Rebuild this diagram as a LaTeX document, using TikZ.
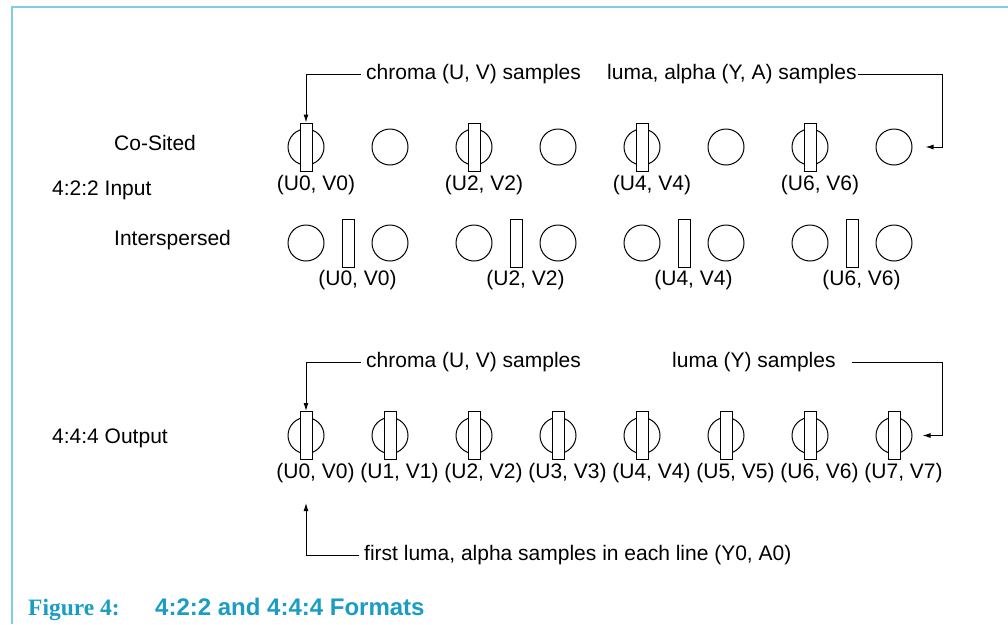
\documentclass[tikz,border=0pt]{standalone}
\usepackage{fontspec}
\setmainfont{Liberation Sans}
\newfontfamily\capserif{Liberation Serif}
\usetikzlibrary{arrows.meta}
\definecolor{framec}{HTML}{7FCFE0}
\definecolor{capc}{HTML}{1A9CC4}
\begin{document}
\begin{tikzpicture}[x=1pt,y=-1pt,
  lbl/.style={font=\fontsize{21}{24}\selectfont, inner sep=0pt},
  samp/.style={circle, draw, line width=1pt, minimum size=36pt, inner sep=0pt},
  chr/.style={rectangle, draw, fill=white, line width=1pt, minimum width=12pt, minimum height=48pt, inner sep=0pt},
  arr/.style={line width=1pt, -{Latex[length=8pt,width=5pt]}}]
\useasboundingbox (0,0) rectangle (1008,624);
\draw[framec, line width=2pt] (12,624) -- (12,7) -- (1008,7);

% left labels
\node[lbl, anchor=base west] (lcs) at (114,150) {Co-Sited};
\node[lbl, anchor=base west] (lin) at (52,195) {4:2:2 Input};
\node[lbl, anchor=base west] (lis) at (114,245) {Interspersed};
\node[lbl, anchor=base west] (lout) at (52,443) {4:4:4 Output};

% co-sited row
\foreach \i in {1,...,8} \node[samp] (cs\i) at ({222+84*\i},147) {};
\foreach \i/\u in {1/0,3/2,5/4,7/6} {
  \node[chr] (cr\i) at ({222+84*\i},147) {};
  \node[lbl] (cl\i) at ({232+84*\i},185) {(U\u, V\u)};
}

% interspersed row
\foreach \i in {1,...,8} \node[samp] (is\i) at ({222+84*\i},243) {};
\foreach \k/\u in {0/0,1/2,2/4,3/6} {
  \node[chr] (ir\k) at ({348+168*\k},243) {};
  \node[lbl] (il\k) at ({357.5+168*\k},280) {(U\u, V\u)};
}

% output row
\foreach \i in {1,...,8} {
  \node[samp] (os\i) at ({222+84*\i},435.5) {};
  \node[chr] (or\i) at ({222+84*\i},435.5) {};
}
\foreach \i/\u in {1/0,2/1,3/2,4/3,5/4,6/5,7/6,8/7}
  \node[lbl] (ol\i) at ({231.5+84*\i},473) {(U\u, V\u)};

% arrows, top
\node[lbl, anchor=west, inner xsep=5pt] (t1) at (361,74) {chroma (U, V) samples};
\draw[arr] (t1.west) -| (cr1.north);
\node[lbl, anchor=west, inner xsep=1pt] (t2) at (606,74) {luma, alpha (Y, A) samples};
\coordinate (k1) at (942,74);
\draw[arr, shorten >=13pt] (t2.east) -- (k1) |- (cs8.east);

% arrows, output
\node[lbl, anchor=west, inner xsep=5pt] (t3) at (361,362) {chroma (U, V) samples};
\draw[arr] (t3.west) -| (or1.north);
\node[lbl, anchor=west, inner xsep=1pt] (t4) at (671,362) {luma (Y) samples};
\coordinate (k2) at (942,362);
\draw[arr, shorten <=15pt, shorten >=10pt] (t4.east) -- (k2) |- (os8.east);

\node[lbl, anchor=west, inner xsep=5pt] (t5) at (359,555) {first luma, alpha samples in each line (Y0, A0)};
\coordinate (a5) at (306,503);
\draw[arr] (t5.west) -| (a5);

% caption
\node[anchor=base west, inner sep=0pt, text=capc, font=\capserif\bfseries\fontsize{23.5}{26}\selectfont] (cap1) at (28,615) {Figure 4:};
\node[anchor=base west, inner sep=0pt, text=capc, font=\bfseries\fontsize{24}{26}\selectfont] (cap2) at (155,615) {4:2:2 and 4:4:4 Formats};
\end{tikzpicture}
\end{document}
